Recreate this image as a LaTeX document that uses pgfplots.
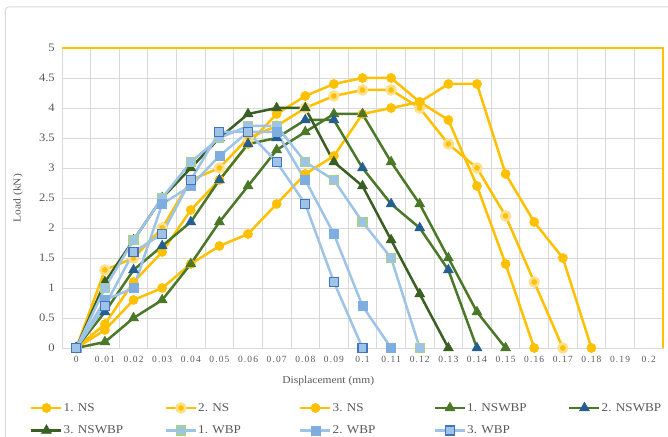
\documentclass[border=0pt]{standalone}
\usepackage{fontspec}
\setmainfont{Liberation Serif}[FakeStretch=1.1]
\newfontfamily\tickfont{Liberation Serif}[LetterSpace=12]
\usepackage{pgfplots}
\pgfplotsset{compat=1.18}

\definecolor{ns}{HTML}{FFC000}
\definecolor{nshalo}{HTML}{FFE08C}
\definecolor{gA}{HTML}{4A7728}
\definecolor{gB}{HTML}{3A5F22}
\definecolor{bt}{HTML}{255E91}
\definecolor{lb}{HTML}{9DC3E6}
\definecolor{sqmid}{HTML}{7EAEDF}
\definecolor{sqgreen}{HTML}{A9D18E}
\definecolor{sqblue}{HTML}{4472C4}
\definecolor{gridc}{HTML}{D9D9D9}
\definecolor{txt}{HTML}{595959}

\begin{document}
\begin{tikzpicture}
\begin{axis}[
  scale only axis, width=601bp, height=300bp,
  xmin=-0.005, xmax=0.205, ymin=0, ymax=5,
  xtick={0,0.01,0.02,0.03,0.04,0.05,0.06,0.07,0.08,0.09,0.1,0.11,0.12,0.13,0.14,0.15,0.16,0.17,0.18,0.19,0.2},
  xticklabels={0,0.01,0.02,0.03,0.04,0.05,0.06,0.07,0.08,0.09,0.1,0.11,0.12,0.13,0.14,0.15,0.16,0.17,0.18,0.19,0.2},
  minor x tick num=1,
  ytick={0,0.5,1,1.5,2,2.5,3,3.5,4,4.5,5},
  yticklabels={0,0.5,1,1.5,2,2.5,3,3.5,4,4.5,5},
  xmajorgrids=false, xminorgrids=true, ymajorgrids=true,
  grid style={gridc, line width=0.9bp},
  minor grid style={gridc, line width=0.9bp},
  major tick length=0pt, minor tick length=0pt,
  axis line style={gridc, line width=0.9bp},
  /pgf/number format/assume math mode=true,
  xticklabel style={font=\tickfont\fontsize{9.5}{10}\selectfont, text=txt, inner sep=0pt, yshift=-8bp},
  yticklabel style={font=\fontsize{11.5}{12}\selectfont, text=txt, inner sep=0pt, xshift=-7bp},
  xlabel={Displacement (mm)},
  xlabel style={font=\fontsize{10.5}{12}\selectfont, text=txt, at={(axis description cs:0.443,-0.11)}, anchor=center},
  ylabel={Load (kN)},
  ylabel style={font=\fontsize{10.5}{12}\selectfont, text=txt, at={(axis description cs:-0.073,0.5)}, anchor=center},
  every axis plot/.append style={line width=2.5bp},
  legend columns=5,
  legend style={at={(rel axis cs:-0.0532,-0.18)}, anchor=north west, draw=none, fill=none,
    font=\fontsize{12}{13}\selectfont, text=txt, inner sep=0pt,
    nodes={inner sep=1bp}, row sep=11bp, column sep=0pt},
  legend image code/.code={\draw[mark repeat=2,mark phase=2,#1] plot coordinates {(0bp,0bp) (15bp,0bp) (30bp,0bp)};},
  after end axis/.code={
    \draw[ns, line width=1.2bp] (rel axis cs:0,1) -- (rel axis cs:1,1) -- (rel axis cs:1,0);
    \coordinate (O) at (rel axis cs:0,0);},
]
% NS series
\addplot[ns, mark=*, mark size=4.6bp, mark options={solid, fill=ns, draw=ns, line width=0.5bp}] coordinates {
(0,0)(0.01,0.4)(0.02,1.1)(0.03,1.6)(0.04,2.3)(0.05,2.8)(0.06,3.4)(0.07,3.9)(0.08,4.2)(0.09,4.4)(0.1,4.5)(0.11,4.5)(0.12,4.1)(0.13,3.8)(0.14,2.7)(0.15,1.4)(0.16,0)};
\addlegendentry{\makebox[100bp][l]{1. NS}}
\addplot[ns, mark=*, mark size=4.4bp, mark options={solid, fill=ns, draw=nshalo, line width=2.6bp}] coordinates {
(0,0)(0.01,1.3)(0.02,1.5)(0.03,2.0)(0.04,2.8)(0.05,3.0)(0.06,3.5)(0.07,3.7)(0.08,4.0)(0.09,4.2)(0.1,4.3)(0.11,4.3)(0.12,4.0)(0.13,3.4)(0.14,3.0)(0.15,2.2)(0.16,1.1)(0.17,0)};
\addlegendentry{\makebox[100bp][l]{2. NS}}
\addplot[ns, mark=*, mark size=4.6bp, mark options={solid, fill=ns, draw=ns, line width=0.5bp}] coordinates {
(0,0)(0.01,0.3)(0.02,0.8)(0.03,1.0)(0.04,1.4)(0.05,1.7)(0.06,1.9)(0.07,2.4)(0.08,2.9)(0.09,3.2)(0.1,3.9)(0.11,4.0)(0.12,4.1)(0.13,4.4)(0.14,4.4)(0.15,2.9)(0.16,2.1)(0.17,1.5)(0.18,0)};
\addlegendentry{\makebox[100bp][l]{3. NS}}
% NSWBP series
\addplot[gA, mark=triangle*, mark size=5.8bp, mark options={solid, fill=gA, draw=gA, line width=0.5bp}] coordinates {
(0,0)(0.01,0.1)(0.02,0.5)(0.03,0.8)(0.04,1.4)(0.05,2.1)(0.06,2.7)(0.07,3.3)(0.08,3.6)(0.09,3.9)(0.1,3.9)(0.11,3.1)(0.12,2.4)(0.13,1.5)(0.14,0.6)(0.15,0)};
\addlegendentry{\makebox[100bp][l]{1. NSWBP}}
\addplot[gA, mark=triangle*, mark size=5.8bp, mark options={solid, fill=bt, draw=bt, line width=0.5bp}] coordinates {
(0,0)(0.01,0.6)(0.02,1.3)(0.03,1.7)(0.04,2.1)(0.05,2.8)(0.06,3.4)(0.07,3.5)(0.08,3.8)(0.09,3.8)(0.1,3.0)(0.11,2.4)(0.12,2.0)(0.13,1.3)(0.14,0)};
\addlegendentry{\makebox[100bp][l]{2. NSWBP}}
\addplot[gB, mark=triangle*, mark size=5.8bp, mark options={solid, fill=gB, draw=gB, line width=0.5bp}] coordinates {
(0,0)(0.01,1.1)(0.02,1.8)(0.03,2.5)(0.04,3.0)(0.05,3.5)(0.06,3.9)(0.07,4.0)(0.08,4.0)(0.09,3.1)(0.1,2.7)(0.11,1.8)(0.12,0.9)(0.13,0)};
\addlegendentry{\makebox[100bp][l]{3. NSWBP}}
% WBP series
\addplot[lb, mark=square*, mark size=4.5bp, mark options={solid, fill=lb, draw=sqgreen, line width=1.1bp}] coordinates {
(0,0)(0.01,1.0)(0.02,1.8)(0.03,2.5)(0.04,3.1)(0.05,3.5)(0.06,3.7)(0.07,3.7)(0.08,3.1)(0.09,2.8)(0.1,2.1)(0.11,1.5)(0.12,0)};
\addlegendentry{\makebox[100bp][l]{1. WBP}}
\addplot[lb, mark=square*, mark size=4.5bp, mark options={solid, fill=sqmid, draw=sqmid, line width=0.6bp}] coordinates {
(0,0)(0.01,0.8)(0.02,1.0)(0.03,2.4)(0.04,2.7)(0.05,3.2)(0.06,3.6)(0.07,3.6)(0.08,2.8)(0.09,1.9)(0.1,0.7)(0.11,0)};
\addlegendentry{\makebox[100bp][l]{2. WBP}}
\addplot[lb, mark=square*, mark size=4.5bp, mark options={solid, fill=lb, draw=sqblue, line width=1.1bp}] coordinates {
(0,0)(0.01,0.7)(0.02,1.6)(0.03,1.9)(0.04,2.8)(0.05,3.6)(0.06,3.6)(0.07,3.1)(0.08,2.4)(0.09,1.1)(0.1,0)};
\addlegendentry{\makebox[100bp][l]{3. WBP}}
\end{axis}
% page extent and chart frame, measured from the plot area's lower left corner
\pgfresetboundingbox
\path[use as bounding box] ([shift={(-62bp,-89bp)}]O) rectangle ([shift={(606bp,348bp)}]O);
\draw[gridc, line width=1bp, rounded corners=3bp] ([shift={(-56.5bp,-100bp)}]O) rectangle ([shift={(630bp,341bp)}]O);
\end{tikzpicture}
\end{document}
